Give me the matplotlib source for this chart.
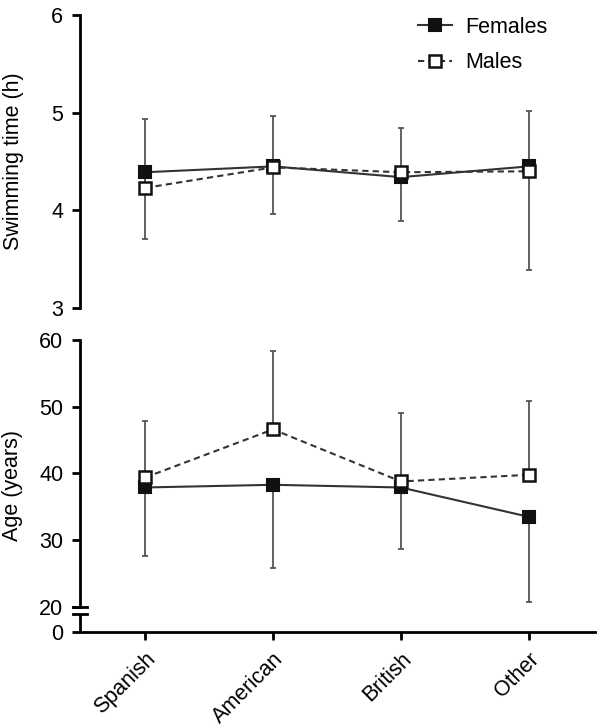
import numpy as np
import matplotlib
matplotlib.use('Agg')
import matplotlib.pyplot as plt
from matplotlib.scale import FuncScale
import matplotlib.transforms as mtransforms

groups = ['Spanish', 'American', 'British', 'Other']

# swimming time (h)
swim_females = [4.39, 4.45, 4.34, 4.45]
swim_males = [4.23, 4.44, 4.39, 4.40]
swim_females_sd = [0.68, 0.49, 0.45, 1.06]   # drawn below
swim_males_sd = [0.71, 0.53, 0.45, 0.62]     # drawn above

# age (years)
age_females = [37.9, 38.3, 37.9, 33.5]
age_males = [39.4, 46.6, 38.8, 39.8]
age_females_sd = [10.2, 12.5, 9.2, 12.8]
age_males_sd = [8.4, 11.8, 10.2, 11.0]

plt.rcParams['font.family'] = 'Liberation Sans'

x = np.arange(len(groups))
ink = '#111111'
errc = '#555555'
zeros = [0] * len(groups)
fs = 15.5

fig = plt.figure(figsize=(6, 7.27), dpi=100)
ax1 = fig.add_axes([0.1333, 0.5763, 0.8587, 0.4031])
ax2 = fig.add_axes([0.1333, 0.1307, 0.8587, 0.4016])


def draw(ax, fem, mal, fem_sd, mal_sd):
    ax.errorbar(x, fem, yerr=[fem_sd, zeros], fmt='none', ecolor=errc,
                elinewidth=1.3, capsize=2.5, capthick=1.3, zorder=1)
    ax.errorbar(x, mal, yerr=[zeros, mal_sd], fmt='none', ecolor=errc,
                elinewidth=1.3, capsize=2.5, capthick=1.3, zorder=1)
    ax.plot(x, fem, '-', color='#333333', lw=1.5, marker='s', ms=8,
            mfc=ink, mec=ink, mew=1.5, zorder=3, label='Females')
    ax.plot(x, mal, color='#333333', lw=1.5, ls=(0, (3, 2)), marker='s', ms=8,
            mfc='white', mec=ink, mew=1.8, zorder=4, label='Males')
    ax.set_xlim(-0.51, 3.52)
    for s in ['top', 'right']:
        ax.spines[s].set_visible(False)
    ax.spines['left'].set_linewidth(2)
    ax.tick_params(axis='y', length=6, width=2, pad=6, labelsize=fs)


draw(ax1, swim_females, swim_males, swim_females_sd, swim_males_sd)
ax1.set_ylim(3, 6)
ax1.set_yticks([3, 4, 5, 6])
ax1.spines['bottom'].set_visible(False)
ax1.set_xticks([])
ax1.set_ylabel('Swimming time (h)', fontsize=fs, labelpad=20)
ax1.legend(loc='upper right', bbox_to_anchor=(0.945, 1.06), frameon=False,
           fontsize=fs, handlelength=1.6, handletextpad=0.6, labelspacing=0.68)

# compressed region below 20 for the broken axis
k = 0.188


def fwd(v):
    v = np.asarray(v, dtype=float)
    return np.where(v >= 20, v, 20 - (20 - v) * k)


def inv(v):
    v = np.asarray(v, dtype=float)
    return np.where(v >= 20, v, 20 - (20 - v) / k)


ax2.set_yscale(FuncScale(ax2, (fwd, inv)))
draw(ax2, age_females, age_males, age_females_sd, age_males_sd)
ax2.set_ylim(0, 60)
ax2.set_yticks([0, 20, 30, 40, 50, 60])
ax2.set_yticklabels(['0', '20', '30', '40', '50', '60'])
ax2.set_ylabel('Age (years)', fontsize=fs, labelpad=12)
ax2.spines['bottom'].set_linewidth(2)
ax2.set_xticks(x)
ax2.set_xticklabels(groups, rotation=45, ha='right', rotation_mode='anchor',
                    fontsize=fs)
ax2.tick_params(axis='x', length=6, width=2, pad=6)

# broken left spine
ax2.spines['left'].set_bounds(20, 60)
tr = mtransforms.blended_transform_factory(ax2.transAxes, ax2.transData)
low = 14.2
ax2.plot([0, 0], [0, low], color='black', lw=2, transform=tr, clip_on=False,
         solid_capstyle='butt')
for yb in [20, low]:
    ax2.plot([-0.014, 0.014], [yb, yb], color='black', lw=2, transform=tr,
             clip_on=False)

fig.savefig('out.png', dpi=100)
